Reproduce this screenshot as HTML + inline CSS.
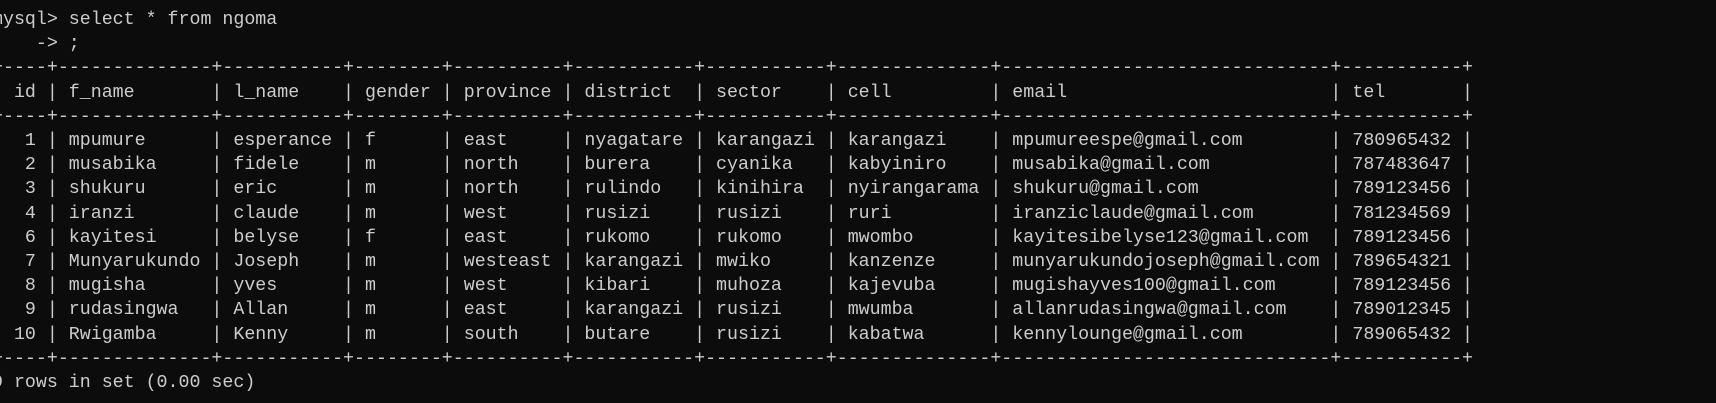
<!DOCTYPE html>
<html><head><meta charset="utf-8"><style>
html,body{margin:0;padding:0;background:#0c0c0c;width:1716px;height:403px;overflow:hidden}
pre{position:absolute;left:-8px;top:8px;margin:0;font-family:"Liberation Mono",monospace;font-size:18.3px;line-height:24.2px;color:#cccccc}
</style></head><body><pre>mysql&gt; select * from ngoma
    -&gt; ;
+----+--------------+-----------+--------+----------+-----------+-----------+--------------+------------------------------+-----------+
| id | f_name       | l_name    | gender | province | district  | sector    | cell         | email                        | tel       |
+----+--------------+-----------+--------+----------+-----------+-----------+--------------+------------------------------+-----------+
|  1 | mpumure      | esperance | f      | east     | nyagatare | karangazi | karangazi    | mpumureespe@gmail.com        | 780965432 |
|  2 | musabika     | fidele    | m      | north    | burera    | cyanika   | kabyiniro    | musabika@gmail.com           | 787483647 |
|  3 | shukuru      | eric      | m      | north    | rulindo   | kinihira  | nyirangarama | shukuru@gmail.com            | 789123456 |
|  4 | iranzi       | claude    | m      | west     | rusizi    | rusizi    | ruri         | iranziclaude@gmail.com       | 781234569 |
|  6 | kayitesi     | belyse    | f      | east     | rukomo    | rukomo    | mwombo       | kayitesibelyse123@gmail.com  | 789123456 |
|  7 | Munyarukundo | Joseph    | m      | westeast | karangazi | mwiko     | kanzenze     | munyarukundojoseph@gmail.com | 789654321 |
|  8 | mugisha      | yves      | m      | west     | kibari    | muhoza    | kajevuba     | mugishayves100@gmail.com     | 789123456 |
|  9 | rudasingwa   | Allan     | m      | east     | karangazi | rusizi    | mwumba       | allanrudasingwa@gmail.com    | 789012345 |
| 10 | Rwigamba     | Kenny     | m      | south    | butare    | rusizi    | kabatwa      | kennylounge@gmail.com        | 789065432 |
+----+--------------+-----------+--------+----------+-----------+-----------+--------------+------------------------------+-----------+
9 rows in set (0.00 sec)
</pre></body></html>
